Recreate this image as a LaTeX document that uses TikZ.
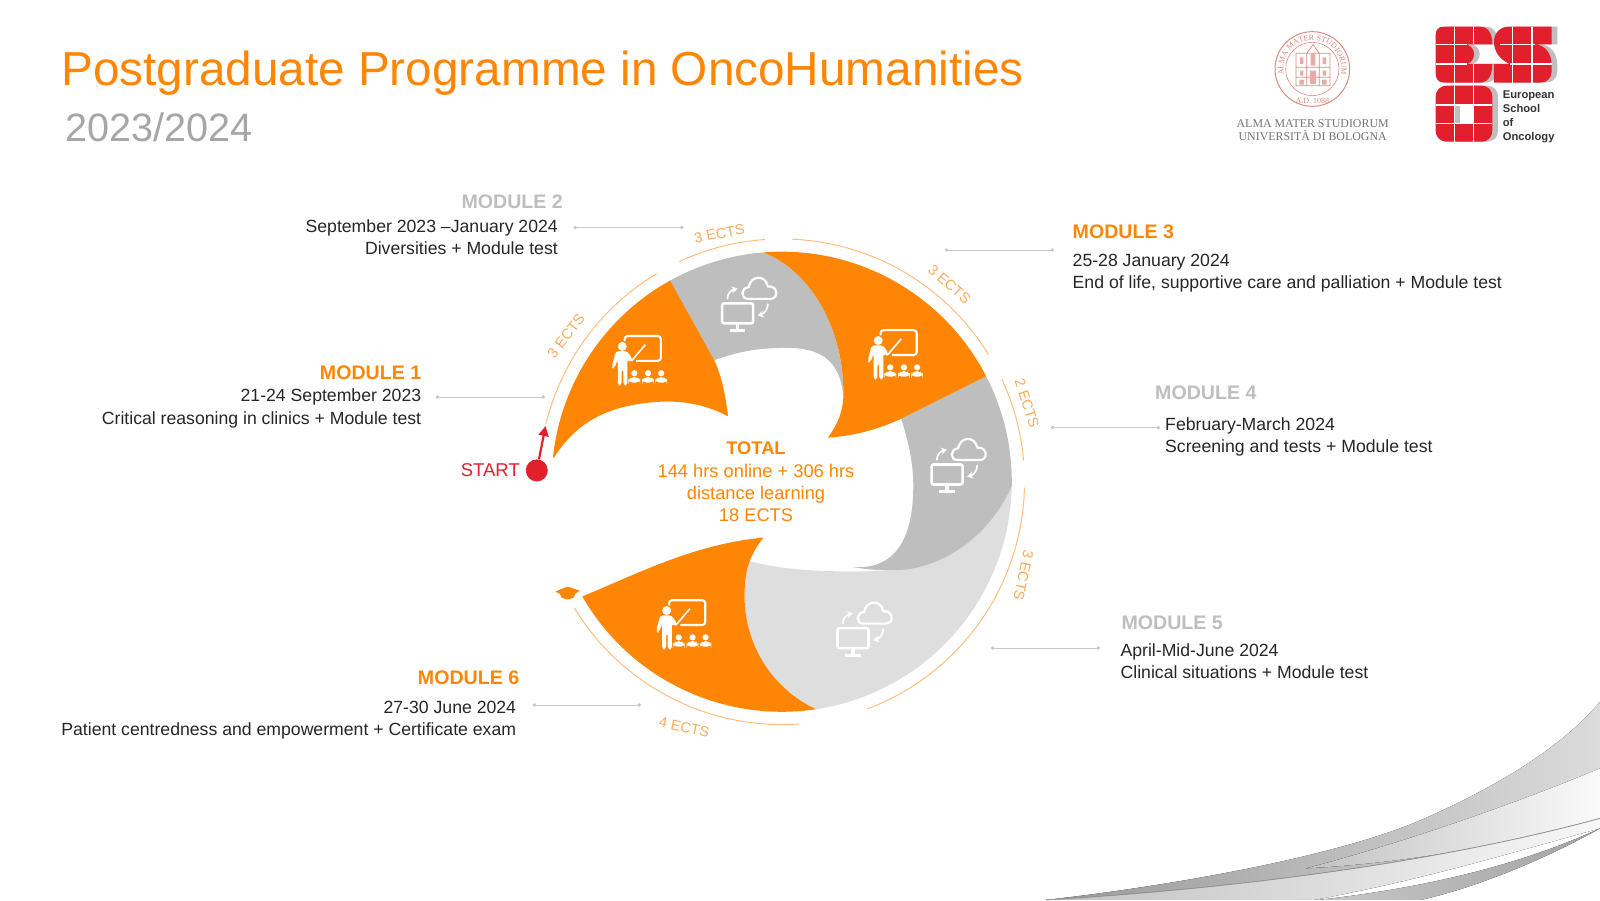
\documentclass[tikz,border=0pt]{standalone}
\usepackage{fontspec}
\setmainfont{Liberation Sans}
\newfontfamily\sealfont{Liberation Serif}
\usetikzlibrary{arrows.meta,decorations.text}
\definecolor{onco}{HTML}{FF8605}
\definecolor{arcline}{HTML}{FFBE80}
\definecolor{ectstext}{HTML}{FFAA5A}
\definecolor{modgray}{HTML}{BEBEBE}
\definecolor{modlight}{HTML}{DEDEDE}
\definecolor{startred}{HTML}{E21F2D}
\definecolor{sealred}{HTML}{DB8A80}
\tikzset{
  modhead/.style={font=\fontsize{19.6}{24}\selectfont\bfseries,inner sep=0pt},
  modbody/.style={font=\fontsize{17.65}{22.4}\selectfont,text=black!85,inner sep=0pt},
  ectslabel/.style={font=\fontsize{14.5}{16}\selectfont,text=ectstext,inner sep=0pt},
  esolabel/.style={anchor=base west,inner sep=0pt,font=\fontsize{11.2}{13.9}\selectfont\bfseries,text=black!80},
  leader/.style={draw=black!22,line width=1pt,{Circle[length=3.5pt]}-{Circle[length=3.5pt]}},
  thinarc/.style={draw=arcline,line width=1pt},
  teacher/.pic={
    \draw[white,line width=2.1pt,rounded corners=3] (-38,-55) -- (-38,-70) -- (67,-70) -- (67,2) -- (-5,2);
    \fill[white] (-45,-40) circle (13);
    \fill[white,rounded corners=3] (-64,-26) -- (-76,22) -- (-68,24) -- (-58,-2) -- (-58,73) -- (-47,73) -- (-47,25) -- (-42,25)
      -- (-42,73) -- (-30,73) -- (-30,-4) -- (-22,6) -- (-14,0) -- (-30,-26) -- cycle;
    \draw[white,line width=1.6pt] (-18,2) -- (22,-45);
    \foreach \px in {-10,30,68} {
      \fill[white] (\px,38) circle (9);
      \fill[white,rounded corners=4] (\px-17,65) -- (\px-17,58) -- (\px-8,49) -- (\px+8,49) -- (\px+17,58) -- (\px+17,65) -- cycle;
    }
  },
  cloudpc/.pic={
    \draw[white,line width=2.2pt] (0,-16) .. controls (-22,-16) and (-22,-48) .. (2,-50) .. controls (8,-84) and (50,-88) .. (58,-52)
      .. controls (88,-55) and (90,-16) .. (65,-16) -- cycle;
    \draw[white,line width=2.6pt,rounded corners=2] (-75,-3) rectangle (15,55);
    \draw[white,line width=3.4pt] (-30,55) -- (-30,75);
    \draw[white,line width=2.6pt] (-53,76) -- (-8,76);
    \draw[white,line width=1.7pt,-{Stealth[length=6pt,width=7pt]}] (-60,-15) .. controls (-60,-32) and (-48,-42) .. (-30,-46);
    \draw[white,line width=1.7pt,-{Stealth[length=6pt,width=7pt]}] (58,-2) .. controls (58,15) and (46,28) .. (28,32);
  }
}
\begin{document}
\begin{tikzpicture}[x=1pt,y=-1pt]
\useasboundingbox (0,0) rectangle (1600,900);

% swoosh
\begin{scope}[shift={(1000,680)},x=.3827pt,y=-.3333pt]
\fill[left color=black!40,right color=black!14] (120,660) .. controls (500,610) and (900,520) .. (1100,420) .. controls (1300,320) and (1470,200) .. (1568,65) -- (1568,415) .. controls (1200,530) and (700,620) .. cycle;
\fill[left color=black!24,right color=black!2] (800,565) .. controls (1050,490) and (1350,370) .. (1568,265) -- (1568,415) .. controls (1300,500) and (1050,550) .. cycle;
\fill[left color=black!24,right color=black!3] (120,660) .. controls (700,620) and (1200,530) .. (1568,415) -- (1568,445) .. controls (1300,530) and (1100,600) .. (820,660) -- cycle;
\draw[black!42,line width=.8pt] (120,660) .. controls (700,620) and (1200,530) .. (1568,415);
\fill[left color=black!22,right color=black!36] (830,660) .. controls (1100,625) and (1350,560) .. (1568,445) .. controls (1420,540) and (1250,620) .. (1100,660) -- cycle;
\end{scope}

% title
\node[anchor=base west,inner sep=0pt,font=\fontsize{47.7}{55}\selectfont,text=onco] (title) at (61,85) {Postgraduate Programme in OncoHumanities};
\node[anchor=base west,inner sep=0pt,font=\fontsize{39.6}{45}\selectfont,text=black!35] (year) at (65,141) {2023/2024};

% logos
\begin{scope}[shift={(1200,10)},x=.3333pt,y=-.3333pt]
\draw[sealred,line width=1pt] (337,177) circle (112);
\draw[sealred,line width=.6pt] (337,177) circle (80);
\path[postaction={decorate},decoration={text along path,text align=center,text={|\sealfont\fontsize{8}{8}\selectfont\color{sealred}|ALMA MATER STUDIORUM}}]
  ([shift={(150:87)}]337,177) arc[start angle=150,end angle=390,radius=87];
\node[inner sep=0pt,font=\sealfont\fontsize{8}{8}\selectfont,text=sealred] (sealyear) at (337,272) {A.D. 1088};
\begin{scope}[yshift=-4pt]
\draw[sealred,line width=.7pt] (288,215) rectangle (390,118) (288,160) -- (390,160) (320,118) -- (320,215) (358,118) -- (358,215) (320,118) -- (339,92) -- (358,118) (288,190) -- (390,190);
\fill[sealred!70] (300,130) rectangle (310,150) (368,130) rectangle (378,150) (332,120) rectangle (346,155) (300,170) rectangle (310,185) (368,170) rectangle (378,185) (330,170) rectangle (348,210) (298,197) rectangle (312,212) (366,197) rectangle (380,212);
\end{scope}
\node[inner sep=0pt,font=\sealfont\fontsize{11.9}{12}\selectfont,text=black!55] (almamater) at (338,340) {ALMA MATER STUDIORUM};
\node[inner sep=0pt,font=\sealfont\fontsize{11.9}{12}\selectfont,text=black!55] (bologna) at (338,375) {UNIVERSITÀ DI BOLOGNA};

% shadow, red shapes, grid
\foreach \col/\off in {black!25/17,startred/0} {
  \begin{scope}[xshift=\off*.3333pt]
  \fill[\col] (730,50) -- (840,50) .. controls (865,50) and (877,70) .. (877,103) -- (800,103) .. controls (815,108) and (822,120) .. (822,132) .. controls (822,145) and (815,158) .. (800,162) -- (877,162) .. controls (877,195) and (865,218) .. (840,218) -- (730,218) .. controls (715,218) and (707,205) .. (707,190) -- (707,75) .. controls (707,60) and (715,50) .. (730,50) -- cycle;
  \fill[\col] (925,50) -- (1055,50) -- (1055,103) -- (1005,103) .. controls (1035,105) and (1055,130) .. (1055,165) -- (1055,185) .. controls (1055,205) and (1040,218) .. (1020,218) -- (882,218) -- (882,162) -- (930,162) .. controls (900,150) and (882,125) .. (882,95) .. controls (882,70) and (900,50) .. (925,50) -- cycle;
  \fill[\col] (742,227) -- (842,227) .. controls (865,227) and (877,240) .. (877,262) -- (877,360) .. controls (877,382) and (865,395) .. (842,395) -- (742,395) .. controls (720,395) and (707,382) .. (707,360) -- (707,262) .. controls (707,240) and (720,227) .. (742,227) -- cycle;
  \end{scope}
}
\fill[white] (763,285) rectangle (822,340);
\fill[black!25] (763,285) rectangle (780,340);
\draw[white,line width=1.1pt] (763,50) -- (763,395) (820,50) -- (820,103) (820,162) -- (820,395) (938,50) -- (938,218) (996,50) -- (996,218)
  (707,103) -- (800,103) (707,162) -- (800,162) (900,103) -- (1005,103) (930,162) -- (1055,162) (707,285) -- (877,285) (707,340) -- (877,340);
\node[esolabel] (esotext) at (908,267) {European};
\node[esolabel] (esotext2) at (908,308) {School};
\node[esolabel] (esotext3) at (908,350) {of};
\node[esolabel] (esotext4) at (908,392) {Oncology};
\end{scope}

% wheel
\begin{scope}[shift={(500,200)},x=.3444pt,y=-.3444pt]
\coordinate (c) at (818,818);
\fill[modlight] ([shift={(361:668)}]c) arc[start angle=361,end angle=441.4,radius=668] .. controls (790,1420) and (710,1290) .. (710,1150) .. controls (710,1110) and (715,1075) .. (725,1048) .. controls (850,1085) and (1050,1080) .. (1150,1075) -- (1300,1000) -- cycle;
\fill[modgray] ([shift={(332.7:668)}]c) arc[start angle=332.7,end angle=361,radius=668] .. controls (1430,960) and (1300,1070) .. (1150,1075) .. controls (1100,1077) and (1060,1072) .. (1020,1065) .. controls (1120,1075) and (1200,1020) .. (1200,830) .. controls (1200,760) and (1185,700) .. (1165,635) -- cycle;
\fill[modgray] ([shift={(241:668)}]c) arc[start angle=241,end angle=265.4,radius=668] .. controls (900,205) and (1000,370) .. (997,570) .. controls (985,440) and (900,425) .. (800,430) .. controls (730,432) and (680,445) .. (622,465) -- cycle;
\fill[onco] ([shift={(186:668)}]c) arc[start angle=186,end angle=241,radius=668] -- (622,465) .. controls (645,515) and (655,570) .. (662,628) .. controls (600,595) and (540,585) .. (480,585) .. controls (340,590) and (230,630) .. (157,748) -- cycle;
\fill[onco] ([shift={(265.4:668)}]c) arc[start angle=265.4,end angle=332.7,radius=668] -- (1165,635) .. controls (1100,665) and (1030,685) .. (952,690) .. controls (985,645) and (995,610) .. (997,570) .. controls (1000,370) and (900,205) .. cycle;
\fill[onco] ([shift={(81.4:668)}]c) arc[start angle=81.4,end angle=150.1,radius=668] .. controls (400,1085) and (560,1000) .. (765,980) .. controls (745,1005) and (735,1025) .. (725,1048) .. controls (715,1075) and (710,1110) .. (710,1150) .. controls (710,1290) and (790,1420) .. cycle;

\foreach \a/\b in {193.8/239,245/266,272.4/328.4,335/355,361.4/429.4,86/148.6} {
  \draw[thinarc] ([shift={(\a:705)}]c) arc[start angle=\a,end angle=\b,radius=705];
}

\pic at (400,465) {teacher};
\pic at (1143,448) {teacher};
\pic at (529,1232) {teacher};
\pic at (720,303) {cloudpc};
\pic at (1328,771) {cloudpc};
\pic at (1055,1246) {cloudpc};

\node[ectslabel,rotate=52] (ects1) at (192,395) {3 ECTS};
\node[ectslabel,rotate=11] (ects2) at (637,97) {3 ECTS};
\node[ectslabel,rotate=-41] (ects3) at (1305,245) {3 ECTS};
\node[ectslabel,rotate=-72] (ects4) at (1530,590) {2 ECTS};
\node[ectslabel,rotate=-102] (ects5) at (1520,1090) {3 ECTS};
\node[ectslabel,rotate=-12] (ects6) at (535,1530) {4 ECTS};

% graduation cap
\fill[onco,rounded corners=1] (160,1137) -- (197,1122) -- (232,1135) -- (218,1143) -- (214,1155) -- (197,1160) -- (178,1155) -- (175,1144) -- cycle;
\end{scope}

% start marker
\node[circle,fill=startred,minimum size=22pt,inner sep=0pt] (startdot) at (536.8,470.4) {};
\coordinate (starttip) at (545.5,426);
\draw[startred,line width=2.2pt,-{Triangle[length=10pt,width=10pt]}] (startdot) -- (starttip);
\node[anchor=base east,inner sep=0pt,font=\fontsize{18.5}{22}\selectfont,text=startred] (starttext) at (520,476.5) {START};

% total
\node[align=center,inner sep=0pt,font=\fontsize{18.3}{22.4}\selectfont,text=onco] (total) at (756,482) {\textbf{TOTAL}\\144 hrs online + 306 hrs\\distance learning\\18 ECTS};

% modules
\node[modhead,text=onco,anchor=base east] (head1) at (421.4,379.6) {MODULE 1};
\node[modbody,anchor=north east,align=right] (body1) at (421.4,388.8) {21-24 September 2023\\Critical reasoning in clinics + Module test};
\node[modhead,text=modgray,anchor=base east] (head2) at (563,208) {MODULE 2};
\node[modbody,anchor=north east,align=right] (body2) at (558,219.2) {September 2023 --January 2024\\Diversities + Module test};
\node[modhead,text=onco,anchor=base west] (head3) at (1072.5,238.8) {MODULE 3};
\node[modbody,anchor=north west,align=left] (body3) at (1072.5,253.8) {25-28 January 2024\\End of life, supportive care and palliation + Module test};
\node[modhead,text=modgray,anchor=base west] (head4) at (1155,399) {MODULE 4};
\node[modbody,anchor=north west,align=left] (body4) at (1165,417.2) {February-March 2024\\Screening and tests + Module test};
\node[modhead,text=modgray,anchor=base west] (head5) at (1121.4,629.6) {MODULE 5};
\node[modbody,anchor=north west,align=left] (body5) at (1120.4,643.4) {April-Mid-June 2024\\Clinical situations + Module test};
\node[modhead,text=onco,anchor=base east] (head6) at (519.4,684.7) {MODULE 6};
\node[modbody,anchor=north east,align=right] (body6) at (516.3,701) {27-30 June 2024\\Patient centredness and empowerment + Certificate exam};

% leaders
\coordinate (l1a) at (435.7,397);
\coordinate (l1b) at (545,397);
\coordinate (l2a) at (573.5,227.5);
\coordinate (l2b) at (683.7,227.5);
\coordinate (l3a) at (945,250);
\coordinate (l3b) at (1054,250);
\coordinate (l4a) at (1051,427.5);
\coordinate (l4b) at (1160,427.5);
\coordinate (l5a) at (991,648);
\coordinate (l5b) at (1100,648);
\coordinate (l6a) at (532.7,705);
\coordinate (l6b) at (641,705);
\foreach \n in {1,...,6} {
  \draw[leader] (l\n a) -- (l\n b);
}
\end{tikzpicture}
\end{document}
